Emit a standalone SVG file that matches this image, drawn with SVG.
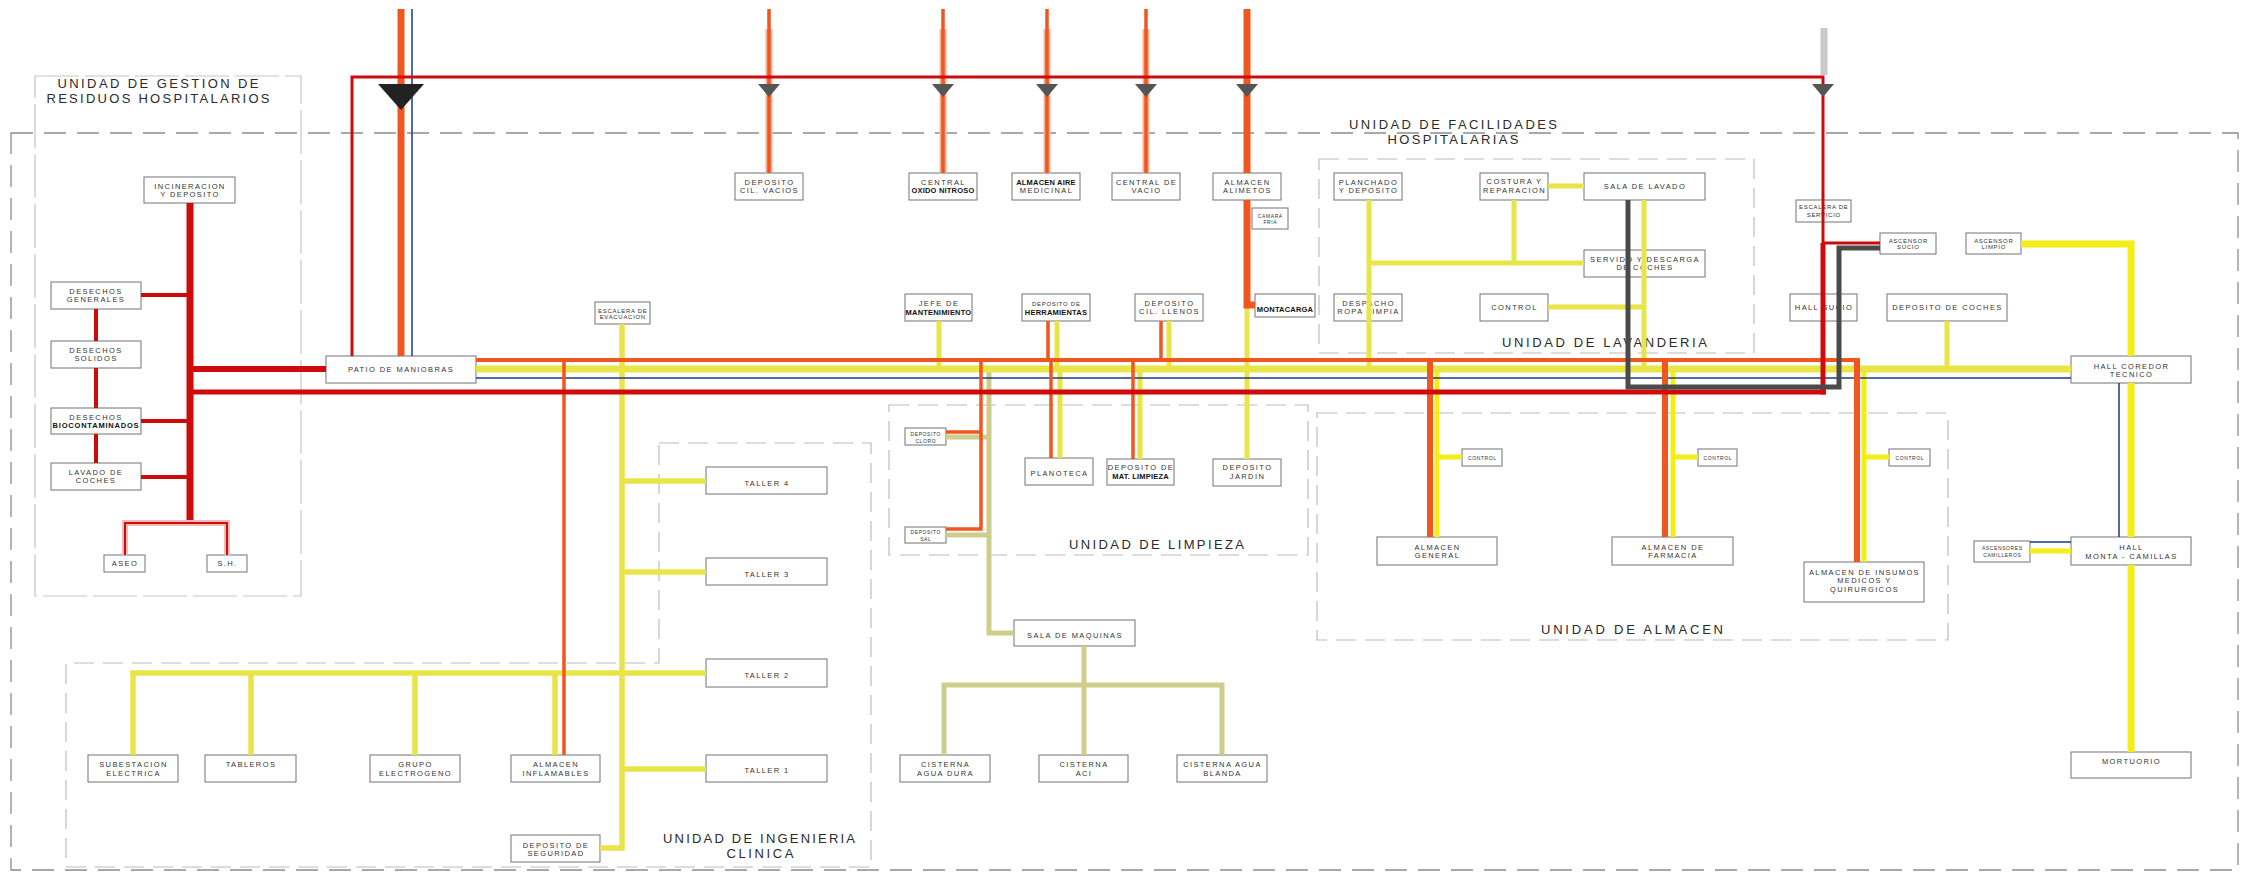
<svg xmlns="http://www.w3.org/2000/svg" width="2250" height="872" viewBox="0 0 2250 872">
<style>
.unit{fill:none;stroke:#bcbcbc;stroke-width:1.2;stroke-dasharray:20 9}
.outer{fill:none;stroke:#8c8c8c;stroke-width:1.3;stroke-dasharray:22 11}
.gest{fill:none;stroke:#c6c6c6;stroke-width:1.2;stroke-dasharray:44 6}
.box{fill:#fff;stroke:#727272;stroke-width:1}
text{font-family:"Liberation Sans",Arial,sans-serif;fill:#333;text-anchor:middle}
.t{font-size:7.5px;letter-spacing:1.4px}
.b{font-size:7.5px;font-weight:bold;fill:#111;letter-spacing:0.2px}
.s{font-size:6px;letter-spacing:0.7px}
.xs{font-size:5px;letter-spacing:0.6px}
.ttl{font-size:13px;fill:#2a2a2a}
.c{fill:none;stroke-linecap:butt;stroke-linejoin:miter}
.red{stroke:#cf0a0a}
.org{stroke:#f0561f}
.yel{stroke:#e7e548}
.ybr{stroke:#f2ee16}
.kha{stroke:#cdcd8c}
.nav{stroke:#1d3a86;stroke-width:1.5}
.gry{stroke:#4a4a4a;stroke-width:5}
.lgr{stroke:#c9c9c9;stroke-width:7}
.tri{fill:#555}
</style>
<rect x="0" y="0" width="2250" height="872" fill="#fff"/>

<g id="units">
  <g id="unit-facilidades">
    <rect class="outer" x="11" y="133" width="2227" height="737"/>
    <text class="ttl" x="1453" y="129" textLength="208" lengthAdjust="spacing">UNIDAD DE FACILIDADES</text>
    <text class="ttl" x="1453" y="144" textLength="131" lengthAdjust="spacing">HOSPITALARIAS</text>
  </g>
  <g id="unit-gestion">
    <rect class="gest" x="35" y="76" width="266" height="520"/>
    <text class="ttl" x="158" y="88" textLength="201" lengthAdjust="spacing">UNIDAD DE GESTION DE</text>
    <text class="ttl" x="158" y="103" textLength="223" lengthAdjust="spacing">RESIDUOS HOSPITALARIOS</text>
  </g>
  <g id="unit-lavanderia">
    <rect class="unit" x="1319" y="159" width="435" height="194"/>
    <text class="ttl" x="1604.5" y="347" textLength="205" lengthAdjust="spacing">UNIDAD DE LAVANDERIA</text>
  </g>
  <g id="unit-limpieza">
    <rect class="unit" x="889" y="405" width="419" height="150"/>
    <text class="ttl" x="1156.5" y="549" textLength="175" lengthAdjust="spacing">UNIDAD DE LIMPIEZA</text>
  </g>
  <g id="unit-almacen">
    <rect class="unit" x="1317" y="413" width="631" height="227"/>
    <text class="ttl" x="1632" y="634" textLength="182" lengthAdjust="spacing">UNIDAD DE ALMACEN</text>
  </g>
  <g id="unit-ingenieria">
    <path class="unit" d="M659,443H871V867H66V663H659Z"/>
    <text class="ttl" x="759" y="843" textLength="192" lengthAdjust="spacing">UNIDAD DE INGENIERIA</text>
    <text class="ttl" x="760" y="858" textLength="67" lengthAdjust="spacing">CLINICA</text>
  </g>
</g>

<g id="nodes">
  <g id="n-incineracion"><rect class="box" x="144" y="177" width="91" height="26"/><text class="t" x="190" y="188.7">INCINERACION</text><text class="t" x="190" y="196.7">Y DEPOSITO</text></g>
  <g id="n-generales"><rect class="box" x="51" y="282" width="90" height="27"/><text class="t" x="96" y="294.2">DESECHOS</text><text class="t" x="96" y="302.2">GENERALES</text></g>
  <g id="n-solidos"><rect class="box" x="51" y="341" width="90" height="27"/><text class="t" x="96" y="353.2">DESECHOS</text><text class="t" x="96" y="361.2">SOLIDOS</text></g>
  <g id="n-bio"><rect class="box" x="51" y="408" width="90" height="26"/><text class="t" x="96" y="419.7">DESECHOS</text><text class="b" x="96" y="427.7" style="letter-spacing:0.8px">BIOCONTAMINADOS</text></g>
  <g id="n-lavado"><rect class="box" x="51" y="463" width="90" height="27"/><text class="t" x="96" y="475.2">LAVADO DE</text><text class="t" x="96" y="483.2">COCHES</text></g>
  <g id="n-aseo"><rect class="box" x="104" y="555" width="41" height="17"/><text class="t" x="125" y="566.2">ASEO</text></g>
  <g id="n-sh"><rect class="box" x="207" y="555" width="40" height="17"/><text class="t" x="227.5" y="566.2">S.H.</text></g>
  <g id="n-patio"><rect class="box" x="326" y="356" width="150" height="27"/><text class="t" x="401" y="372.2">PATIO DE MANIOBRAS</text></g>

  <g id="n-cilvacios"><rect class="box" x="735" y="173" width="68" height="27"/><text class="t" x="769.5" y="185.2">DEPOSITO</text><text class="t" x="769.5" y="193.2">CIL. VACIOS</text></g>
  <g id="n-oxido"><rect class="box" x="909" y="173" width="68" height="27"/><text class="t" x="943.5" y="185.2">CENTRAL</text><text class="b" x="943" y="193.2">OXIDO NITROSO</text></g>
  <g id="n-aire"><rect class="box" x="1012" y="173" width="68" height="27"/><text class="b" x="1046" y="185.2">ALMACEN AIRE</text><text class="t" x="1046.5" y="193.2">MEDICINAL</text></g>
  <g id="n-vacio"><rect class="box" x="1112" y="173" width="68" height="27"/><text class="t" x="1146.5" y="185.2">CENTRAL DE</text><text class="t" x="1146.5" y="193.2">VACIO</text></g>
  <g id="n-alimetos"><rect class="box" x="1213" y="173" width="68" height="27"/><text class="t" x="1247.5" y="185.2">ALMACEN</text><text class="t" x="1247.5" y="193.2">ALIMETOS</text></g>
  <g id="n-camara"><rect class="box" x="1252" y="208" width="36" height="21"/><text class="xs" x="1270.3" y="217.8">CAMARA</text><text class="xs" x="1270.3" y="223.8">FRIA</text></g>

  <g id="n-planchado"><rect class="box" x="1334" y="173" width="68" height="27"/><text class="t" x="1368.5" y="185.2">PLANCHADO</text><text class="t" x="1368.5" y="193.2">Y DEPOSITO</text></g>
  <g id="n-costura"><rect class="box" x="1480" y="173" width="68" height="27"/><text class="t" x="1514.5" y="184.4">COSTURA Y</text><text class="t" x="1514.5" y="193.4">REPARACION</text></g>
  <g id="n-salalavado"><rect class="box" x="1584" y="173" width="121" height="27"/><text class="t" x="1645" y="189.2">SALA DE LAVADO</text></g>
  <g id="n-servido"><rect class="box" x="1584" y="250" width="121" height="27"/><text class="t" x="1645" y="261.7">SERVIDO Y DESCARGA</text><text class="t" x="1645" y="270.2">DE COCHES</text></g>
  <g id="n-despacho"><rect class="box" x="1334" y="294" width="68" height="27"/><text class="t" x="1368.5" y="306.2">DESPACHO</text><text class="t" x="1368.5" y="314.2">ROPA LIMPIA</text></g>
  <g id="n-controllav"><rect class="box" x="1480" y="294" width="68" height="27"/><text class="t" x="1514.5" y="310.2">CONTROL</text></g>

  <g id="n-escserv"><rect class="box" x="1796" y="200" width="55" height="22"/><text class="s" x="1823.8" y="209.2">ESCALERA DE</text><text class="s" x="1823.8" y="217.2">SERVICIO</text></g>
  <g id="n-ascsucio"><rect class="box" x="1880" y="233" width="56" height="21"/><text class="s" x="1908.3" y="242.8">ASCENSOR</text><text class="s" x="1908.3" y="249.4">SUCIO</text></g>
  <g id="n-asclimpio"><rect class="box" x="1966" y="233" width="55" height="21"/><text class="s" x="1993.8" y="242.8">ASCENSOR</text><text class="s" x="1993.8" y="249.4">LIMPIO</text></g>
  <g id="n-hallsucio"><rect class="box" x="1790" y="294" width="67" height="27"/><text class="t" x="1824" y="310.2">HALL SUCIO</text></g>
  <g id="n-depcoches"><rect class="box" x="1887" y="294" width="120" height="27"/><text class="t" x="1947.5" y="310.2">DEPOSITO DE COCHES</text></g>
  <g id="n-hallcoredor"><rect class="box" x="2071" y="356" width="120" height="27"/><text class="t" x="2131.5" y="368.7">HALL COREDOR</text><text class="t" x="2131.5" y="376.7">TECNICO</text></g>

  <g id="n-escevac"><rect class="box" x="595" y="302" width="55" height="22"/><text class="s" x="622.8" y="312.8">ESCALERA DE</text><text class="s" x="622.8" y="318.8">EVACUACION</text></g>
  <g id="n-jefe"><rect class="box" x="905" y="294" width="67" height="27"/><text class="t" x="939" y="306.2">JEFE DE</text><text class="b" x="938.5" y="314.5">MANTENIMIENTO</text></g>
  <g id="n-herramientas"><rect class="box" x="1022" y="294" width="68" height="27"/><text class="s" x="1056.3" y="305.5">DEPOSITO DE</text><text class="b" x="1056" y="314.5">HERRAMIENTAS</text></g>
  <g id="n-cilllenos"><rect class="box" x="1135" y="294" width="68" height="27"/><text class="t" x="1169.5" y="306.2">DEPOSITO</text><text class="t" x="1169.5" y="314.2">CIL. LLENOS</text></g>
  <g id="n-montacarga"><rect class="box" x="1255" y="294" width="60" height="23"/><text class="b" x="1285" y="311.7">MONTACARGA</text></g>
  <g id="n-cloro"><rect class="box" x="905" y="428" width="41" height="17"/><text class="xs" x="925.8" y="436">DEPOSITO</text><text class="xs" x="925.8" y="443">CLORO</text></g>
  <g id="n-sal"><rect class="box" x="905" y="527" width="41" height="16"/><text class="xs" x="925.8" y="534.4">DEPOSITO</text><text class="xs" x="925.8" y="540.6">SAL</text></g>
  <g id="n-planoteca"><rect class="box" x="1025" y="458" width="68" height="27"/><text class="t" x="1059.5" y="476.4">PLANOTECA</text></g>
  <g id="n-matlimpieza"><rect class="box" x="1107" y="459" width="67" height="26"/><text class="t" x="1141" y="470.4">DEPOSITO DE</text><text class="b" x="1140.5" y="479.2">MAT. LIMPIEZA</text></g>
  <g id="n-jardin"><rect class="box" x="1213" y="459" width="68" height="27"/><text class="t" x="1247.5" y="470.4">DEPOSITO</text><text class="t" x="1247.5" y="479.2">JARDIN</text></g>

  <g id="n-controlgen"><rect class="box" x="1462" y="449" width="40" height="17"/><text class="xs" x="1482.3" y="459.5">CONTROL</text></g>
  <g id="n-almgeneral"><rect class="box" x="1377" y="537" width="120" height="28"/><text class="t" x="1437.5" y="550.4">ALMACEN</text><text class="t" x="1437.5" y="558.4">GENERAL</text></g>
  <g id="n-controlfarm"><rect class="box" x="1698" y="449" width="39" height="17"/><text class="xs" x="1717.8" y="459.5">CONTROL</text></g>
  <g id="n-farmacia"><rect class="box" x="1612" y="537" width="121" height="28"/><text class="t" x="1673" y="550.4">ALMACEN DE</text><text class="t" x="1673" y="558.4">FARMACIA</text></g>
  <g id="n-controlins"><rect class="box" x="1889" y="449" width="41" height="17"/><text class="xs" x="1909.8" y="459.5">CONTROL</text></g>
  <g id="n-insumos"><rect class="box" x="1804" y="562" width="120" height="40"/><text class="t" x="1864.5" y="574.7">ALMACEN DE INSUMOS</text><text class="t" x="1864.5" y="583.2">MEDICOS Y</text><text class="t" x="1864.5" y="591.7">QUIRURGICOS</text></g>
  <g id="n-camilleros"><rect class="box" x="1974" y="541" width="56" height="21"/><text class="xs" x="2002.3" y="550.3">ASCENSORES</text><text class="xs" x="2002.3" y="556.5">CAMILLEROS</text></g>
  <g id="n-hallmonta"><rect class="box" x="2071" y="537" width="120" height="28"/><text class="t" x="2131.5" y="549.7">HALL</text><text class="t" x="2131.5" y="558.7">MONTA - CAMILLAS</text></g>
  <g id="n-mortuorio"><rect class="box" x="2071" y="752" width="120" height="26"/><text class="t" x="2131.5" y="763.7">MORTUORIO</text></g>

  <g id="n-taller4"><rect class="box" x="706" y="467" width="121" height="27"/><text class="t" x="767" y="485.7">TALLER 4</text></g>
  <g id="n-taller3"><rect class="box" x="706" y="558" width="121" height="27"/><text class="t" x="767" y="576.7">TALLER 3</text></g>
  <g id="n-taller2"><rect class="box" x="706" y="659" width="121" height="28"/><text class="t" x="767" y="677.7">TALLER 2</text></g>
  <g id="n-taller1"><rect class="box" x="706" y="755" width="121" height="27"/><text class="t" x="767" y="772.7">TALLER 1</text></g>
  <g id="n-salamaquinas"><rect class="box" x="1014" y="620" width="121" height="26"/><text class="t" x="1075" y="638.4">SALA DE MAQUINAS</text></g>
  <g id="n-cisdura"><rect class="box" x="900" y="755" width="90" height="27"/><text class="t" x="945.5" y="767">CISTERNA</text><text class="t" x="945.5" y="776">AGUA DURA</text></g>
  <g id="n-cisaci"><rect class="box" x="1039" y="755" width="89" height="27"/><text class="t" x="1084" y="767">CISTERNA</text><text class="t" x="1084" y="776">ACI</text></g>
  <g id="n-cisblanda"><rect class="box" x="1177" y="755" width="90" height="27"/><text class="t" x="1222.5" y="767">CISTERNA AGUA</text><text class="t" x="1222.5" y="776">BLANDA</text></g>
  <g id="n-subestacion"><rect class="box" x="88" y="755" width="90" height="27"/><text class="t" x="133.5" y="767">SUBESTACION</text><text class="t" x="133.5" y="776">ELECTRICA</text></g>
  <g id="n-tableros"><rect class="box" x="205" y="755" width="91" height="27"/><text class="t" x="251" y="767">TABLEROS</text></g>
  <g id="n-grupo"><rect class="box" x="370" y="755" width="90" height="27"/><text class="t" x="415.5" y="767">GRUPO</text><text class="t" x="415.5" y="776">ELECTROGENO</text></g>
  <g id="n-inflamables"><rect class="box" x="511" y="755" width="89" height="27"/><text class="t" x="556" y="767">ALMACEN</text><text class="t" x="556" y="776">INFLAMABLES</text></g>
  <g id="n-seguridad"><rect class="box" x="511" y="835" width="89" height="27"/><text class="t" x="556" y="848.4">DEPOSITO DE</text><text class="t" x="556" y="856.2">SEGURIDAD</text></g>
</g>

<g id="connectors">
  <path class="c yel" stroke-width="5.5" d="M622,324V848H600M622,481H706M622,572H706M622,673H706M622,769H706M133,755V673H622M251,673V755M415,673V755M555,673V755"/>
  <path class="c yel" stroke-width="5" d="M939,321V369M1057,321V369M1060,369V458M1169,321V369M1140,369V459M1247,306V459M1369,200V369M1514,200V263M1369,263H1584M1548,186H1584M1548,307H1644M1644,200V369M1947,321V369"/>
  <path class="c ybr" stroke-width="5" d="M1437,369V537M1437,457H1462M1673,369V537M1673,457H1698M1864,369V562M1864,457H1889M2030,551H2071"/>
  <path class="c ybr" stroke-width="7" d="M2021,244H2131V356M2131,383V537M2131,565V752"/>
  <path class="c kha" stroke-width="5" d="M989,369V633H1014M946,437H989M946,535H989M1084,646V755M944,755V685H1222V755"/>
  <path class="c yel" stroke-width="7" d="M476,369H2071"/>
  <path class="c nav" d="M412,9V356M476,378H2071M2119,383V537M2030,542H2071"/>
  <path class="c" stroke="#f7b294" stroke-width="7" d="M769,29V173M943,29V173M1047,29V173M1146,29V173"/>
  <path class="c org" stroke-width="3.5" d="M769,9V173M943,9V173M1047,9V173M1146,9V173"/>
  <path class="c org" stroke-width="7" d="M1247,9V173M1247,200V305H1255M401,9V356"/>
  <path class="c org" stroke-width="4" d="M476,360H1860"/>
  <path class="c org" stroke-width="6" d="M1857,358V562M1430,360V537M1665,360V537"/>
  <path class="c org" stroke-width="3.5" d="M564,360V755M981,360V529H946M946,432H981M1048,321V360M1051,360V458M1161,321V360M1133,360V459"/>
  <path class="c red" stroke-width="7" d="M190,203V523"/>
  <path class="c red" stroke-width="4" d="M141,295H190M141,421H190M141,477H190M96,309V341M96,368V408M96,434V463"/>
  <path class="c red" stroke-width="6" d="M190,369H326"/>
  <path class="c red" stroke-width="5" d="M190,392H1826"/>
  <path class="c" stroke="#f2bcbc" stroke-width="6" d="M125,555V523H227V555"/>
  <path class="c red" stroke-width="2" d="M125,555V523H227V555"/>
  <path class="c red" stroke-width="3" d="M352,356V77H1823V243H1880"/>
  <path class="c red" stroke-width="5" d="M1823,243V394.5"/>
  <path class="c gry" d="M1880,248H1839V387H1628V200"/>
  <path class="c lgr" d="M1824,28V75"/>
</g>

<g id="valves">
  <polygon points="378,84 424,84 401,110" fill="#222"/>
  <polygon class="tri" points="758,84 780,84 769,97"/>
  <polygon class="tri" points="932,84 954,84 943,97"/>
  <polygon class="tri" points="1036,84 1058,84 1047,97"/>
  <polygon class="tri" points="1135,84 1157,84 1146,97"/>
  <polygon class="tri" points="1236,84 1258,84 1247,97"/>
  <polygon class="tri" points="1812,84 1834,84 1823,97"/>
</g>
</svg>
